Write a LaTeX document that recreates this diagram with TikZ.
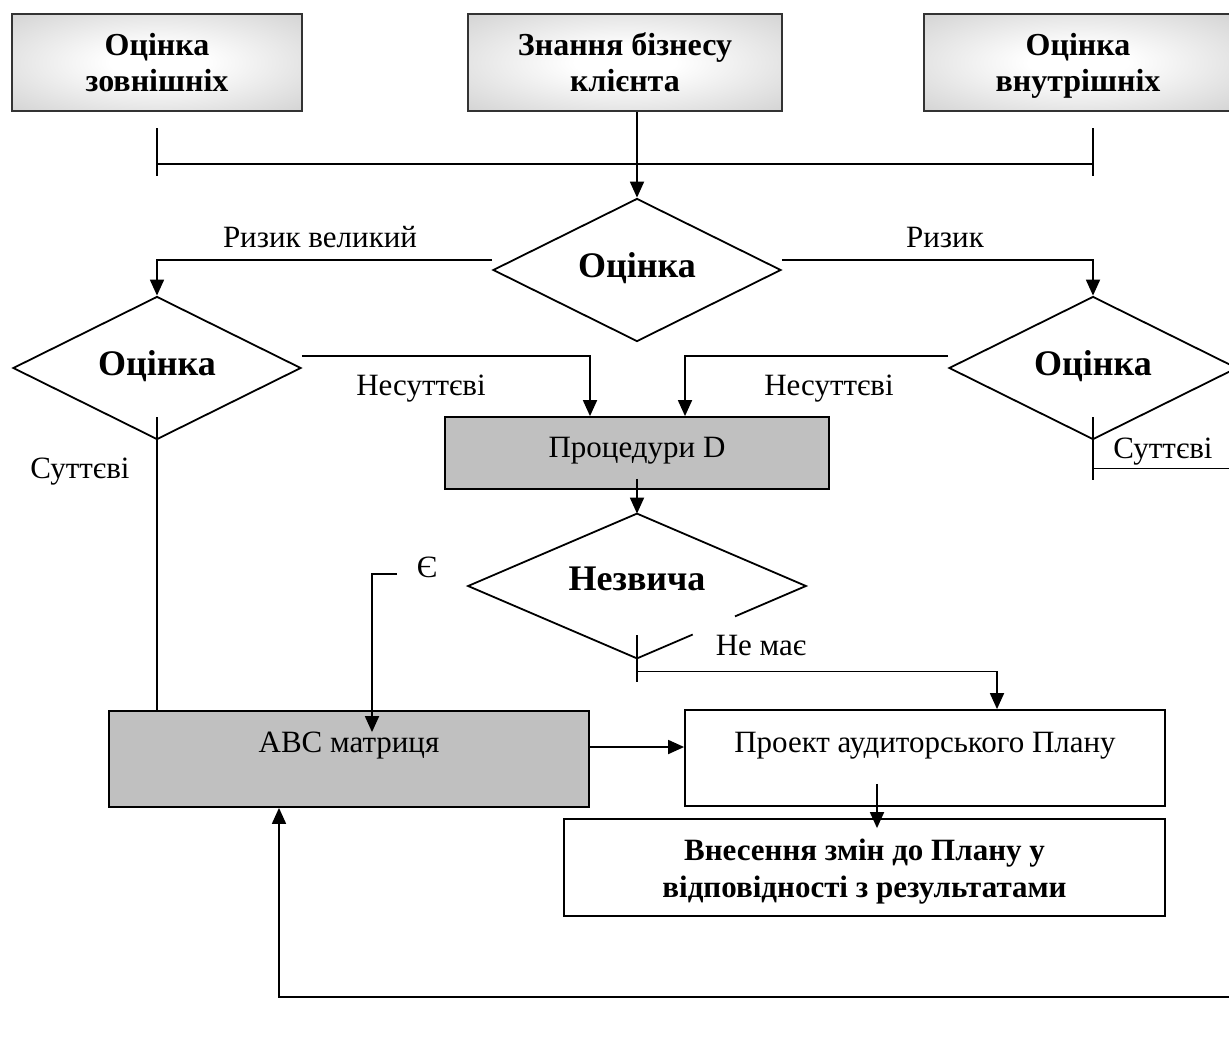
\documentclass[tikz,border=0pt]{standalone}
\usepackage{fontspec}
\setmainfont{Liberation Serif}
\usetikzlibrary{shapes.geometric,arrows.meta,calc}
\definecolor{boxgray}{HTML}{C0C0C0}
\definecolor{shgray}{HTML}{BDBDBD}
\pgfdeclareradialshading{boxshade}{\pgfpoint{0bp}{0bp}}{color(0bp)=(white); color(8bp)=(white); color(50bp)=(shgray); color(72bp)=(shgray)}
\newcommand\shiftxt[2]{\raisebox{#1}[0pt][0pt]{#2}}
\newcommand\topstr[1]{\rule{0pt}{#1}}
\newcommand\botstr[1]{\rule[-#1]{0pt}{#1}}
\begin{document}
\begin{tikzpicture}[x=1pt,y=-1pt,
  every node/.style={font=\fontsize{31}{36}\selectfont},
  conn/.style={line width=1.8pt},
  arr/.style={conn,-{Triangle[length=16pt,width=14pt]}},
  topbox/.style={draw=black!80, line width=2pt, shading=boxshade, align=center,
    font=\fontsize{32}{36}\selectfont\bfseries, inner sep=0pt, minimum height=97pt},
  graybox/.style={draw, line width=1.8pt, fill=boxgray, inner sep=0pt, minimum height=96pt},
  whitebox/.style={draw, line width=1.8pt, fill=white, inner sep=0pt, minimum height=96pt},
  dec/.style={diamond, draw, line width=1.8pt, inner sep=0pt, shape aspect=2,
    minimum width=288pt, minimum height=143pt, font=\fontsize{36}{40}\selectfont\bfseries},
  lbl/.style={inner sep=0pt, anchor=base}
]
\useasboundingbox (0,0) rectangle (1229,1039);
\fill[white] (0,0) rectangle (1229,1039);

% top boxes
\node[topbox, minimum width=290pt] (b1) at (157,62.5) {\topstr{29pt}Оцінка\\зовнішніх\botstr{8pt}};
\node[topbox, minimum width=314pt] (b2) at (625,62.5) {\topstr{29pt}Знання бізнесу\\клієнта\botstr{8pt}};
\node[topbox, minimum width=308pt] (b3) at (1078,62.5) {\topstr{29pt}Оцінка\\внутрішніх\botstr{8pt}};

% bracket
\draw[conn] ([yshift=-16pt]b1.south) -- ([yshift=-64pt]b1.south);
\draw[conn] ([yshift=-52pt]b1.south) -- ([xshift=15pt,yshift=-52pt]b3.south);
\draw[conn] ([xshift=15pt,yshift=-16pt]b3.south) -- ([xshift=15pt,yshift=-64pt]b3.south);

% main decision
\node[dec] (d0) at (637,270) {\shiftxt{-7pt}{Оцінка}};
\draw[arr] ([xshift=12pt]b2.south) -- (d0.north);

\node[dec] (dL) at (157,368) {\shiftxt{-7pt}{Оцінка}};
\node[dec] (dR) at (1093,368) {\shiftxt{-7pt}{Оцінка}};
\draw[arr] ([yshift=10pt]d0.west) -| (dL.north);
\draw[arr] ([yshift=10pt]d0.east) -| (dR.north);
\node[lbl] (lRV) at (320,247) {Ризик великий};
\node[lbl] (lR) at (945,247) {Ризик};

% procedures
\node[graybox, minimum width=384pt, minimum height=72pt] (proc) at (637,453) {\shiftxt{-4pt}{Процедури D}};
\draw[arr] ([yshift=12pt]dL.east) -| ([xshift=-47pt]proc.north);
\draw[arr] ([yshift=12pt]dR.west) -| ([xshift=48pt]proc.north);
\node[lbl] (lN1) at (421,395) {Несуттєві};
\node[lbl] (lN2) at (829,395) {Несуттєві};

% ABC matrix
\node[graybox, minimum width=480pt] (abc) at (349,759) {\shiftxt{7pt}{ABC матриця}};
\draw[conn] ([yshift=23pt]dL.south) -- (dL.south |- abc.north);
\node[lbl] (lS1) at (80,478) {Суттєві};

% right significant branch and feedback
\draw[conn] ([yshift=23pt]dR.south) -- ([yshift=-40pt]dR.south);
\node[lbl] (lS2) at (1163,458) {Суттєві};
\coordinate (fb) at (1250,997);
\draw[arr] ([yshift=-28pt]dR.south) -| (fb) -| ([xshift=-70pt]abc.south);

% unusual
\node[dec, draw=none, minimum width=336pt] (dN) at (637,586) {\shiftxt{-4pt}{Незвича}};
\draw[arr] ([yshift=11pt]proc.south) -- (dN.north);
\draw[conn] ($(dN.south)!0.33!(dN.east)$) -- (dN.south) -- (dN.west) -- (dN.north) -- (dN.east) -- ($(dN.south)!0.58!(dN.east)$);
\draw[conn] ([yshift=23pt]dN.south) -- ([yshift=-24pt]dN.south);

\node[whitebox, minimum width=480pt] (proj) at (925,758) {\shiftxt{6pt}{Проект аудиторського Плану}};
\draw[arr] ([yshift=-13pt]dN.south) -| ([xshift=72pt]proj.north);
\node[lbl] (lNM) at (761,655) {Не має};

\node[lbl] (lE) at (427,577) {Є};
\coordinate (eS) at (397,574);
\draw[arr] (eS) -| ([xshift=23pt,yshift=-22pt]abc.north);

\draw[arr] ([yshift=12pt]abc.east) -- ($(abc.east -| proj.west)+(0,-12)$);

\node[whitebox, align=center, minimum width=601pt, minimum height=97pt,
  font=\fontsize{31}{37}\selectfont\bfseries] (vn) at (864.5,867.5)
  {\topstr{31pt}Внесення змін до Плану у\\відповідності з результатами\botstr{9pt}};
\draw[arr] ([xshift=-48pt,yshift=23pt]proj.south) -- ($(vn.north -| proj.south)+(-48,10)$);
\end{tikzpicture}
\end{document}
